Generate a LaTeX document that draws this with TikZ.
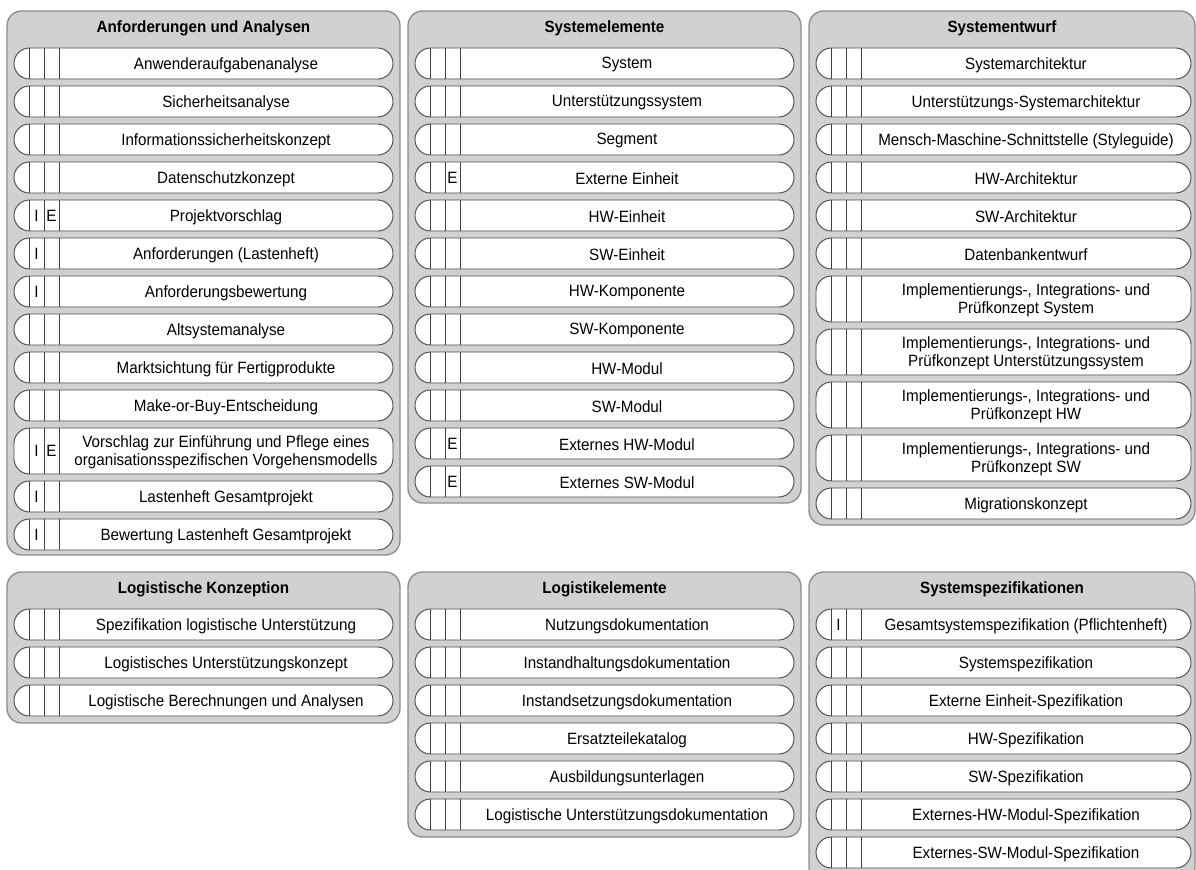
\documentclass[tikz,border=0pt]{standalone}
\usepackage{fontspec}
\setmainfont{Liberation Sans}[FakeStretch=0.93]
\usepackage{tikz}
\usetikzlibrary{positioning, calc}

% one column of artefacts: #1 prefix, #2 left x of the pills, #3 pill width (px), #4 list y/height/I/E/text
\newcommand{\artefakte}[4]{%
    \foreach \yy/\hh/\mi/\me/\txt [count=\n] in {#4} {
        \node[pill, minimum width=#3*0.75pt, minimum height=\hh*0.75pt] (#1-\n) at (#2,\yy) {};
        \draw[trenn] ([xshift=11.25pt]#1-\n.north west) -- ([xshift=11.25pt]#1-\n.south west)
                     ([xshift=22.5pt]#1-\n.north west) -- ([xshift=22.5pt]#1-\n.south west)
                     ([xshift=33.75pt]#1-\n.north west) -- ([xshift=33.75pt]#1-\n.south west);
        \node[marke] (#1-\n-i) at ([xshift=16.875pt]#1-\n.west) {\mi};
        \node[marke] (#1-\n-e) at ([xshift=28.125pt]#1-\n.west) {\me};
        \node[eintrag] (#1-\n-t) at ([xshift=16.875pt, yshift=-1pt]#1-\n.center) {\txt};
    }}

\begin{document}
\begin{tikzpicture}[
        x=0.75pt, y=-0.75pt,
        font=\fontsize{12.25pt}{13.1pt}\selectfont,
        panel/.style={draw=black!45, fill=black!18, line width=1pt, rounded corners=11pt, anchor=north west, inner sep=0pt, outer sep=0pt, minimum width=294.75pt},
        titel/.style={font=\fontsize{12.25pt}{13.1pt}\selectfont\bfseries, inner sep=0pt},
        pill/.style={draw=black!70, fill=white, line width=0.7pt, rounded corners=11.6pt, anchor=north west, inner sep=0pt, outer sep=0pt},
        trenn/.style={draw=black!75, line width=0.6pt},
        marke/.style={inner sep=0pt},
        eintrag/.style={align=center, inner sep=0pt}
    ]
    \clip (0,0) rectangle (1196,869);

    % upper row
    \node[panel, minimum height=408pt] (analysen) at (7,11) {};
    \node[titel] (analysen-titel) at ([yshift=-13pt]analysen.north) {Anforderungen und Analysen};
    \artefakte{ana}{14}{379}{48/31///Anwenderaufgabenanalyse, 86/31///Sicherheitsanalyse,
        124/31///Informationssicherheitskonzept, 162/31///Datenschutzkonzept,
        200/31/I/E/Projektvorschlag, 238/31/I//Anforderungen (Lastenheft),
        276/31/I//Anforderungsbewertung, 314/31///Altsystemanalyse,
        352/31///Marktsichtung für Fertigprodukte, 390/31///Make-or-Buy-Entscheidung,
        428/46/I/E/Vorschlag zur Einführung und Pflege eines\\organisationsspezifischen Vorgehensmodells,
        481/31/I//Lastenheft Gesamtprojekt, 519/31/I//Bewertung Lastenheft Gesamtprojekt}

    \node[panel, minimum height=369pt] (elemente) at (408,11) {};
    \node[titel] (elemente-titel) at ([yshift=-13pt]elemente.north) {Systemelemente};
    \artefakte{ele}{415}{379}{48/31///System, 86/31///Unterstützungssystem, 124/31///Segment,
        162/31//E/Externe Einheit, 200/31///HW-Einheit, 238/31///SW-Einheit,
        276/31///HW-Komponente, 314/31///SW-Komponente, 352/31///HW-Modul,
        390/31///SW-Modul, 428/31//E/Externes HW-Modul, 466/31//E/Externes SW-Modul}

    \node[panel, minimum width=289.5pt, minimum height=385.5pt] (entwurf) at (809,11) {};
    \node[titel] (entwurf-titel) at ([yshift=-13pt]entwurf.north) {Systementwurf};
    \artefakte{ent}{816}{375}{48/31///Systemarchitektur, 86/31///Unterstützungs-Systemarchitektur,
        124/31///Mensch-Maschine-Schnittstelle (Styleguide), 162/31///HW-Architektur,
        200/31///SW-Architektur, 238/31///Datenbankentwurf,
        {276/46///Implementierungs-, Integrations- und\\Prüfkonzept System},
        {329/46///Implementierungs-, Integrations- und\\Prüfkonzept Unterstützungssystem},
        {382/46///Implementierungs-, Integrations- und\\Prüfkonzept HW},
        {435/46///Implementierungs-, Integrations- und\\Prüfkonzept SW},
        488/31///Migrationskonzept}

    % lower row
    \node[panel, minimum height=113.25pt] (konzeption) at (7,572) {};
    \node[titel] (konzeption-titel) at ([yshift=-13pt]konzeption.north) {Logistische Konzeption};
    \artefakte{kon}{14}{379}{609/31///Spezifikation logistische Unterstützung,
        647/31///Logistisches Unterstützungskonzept, 685/31///Logistische Berechnungen und Analysen}

    \node[panel, minimum height=198.75pt] (logistik) at (408,572) {};
    \node[titel] (logistik-titel) at ([yshift=-13pt]logistik.north) {Logistikelemente};
    \artefakte{log}{415}{379}{609/31///Nutzungsdokumentation, 647/31///Instandhaltungsdokumentation,
        685/31///Instandsetzungsdokumentation, 723/31///Ersatzteilekatalog,
        761/31///Ausbildungsunterlagen, 799/31///Logistische Unterstützungsdokumentation}

    \node[panel, minimum width=289.5pt, minimum height=232.5pt] (spezifikation) at (809,572) {};
    \node[titel] (spezifikation-titel) at ([yshift=-13pt]spezifikation.north) {Systemspezifikationen};
    \artefakte{spe}{816}{375}{609/31/I//Gesamtsystemspezifikation (Pflichtenheft),
        647/31///Systemspezifikation, 685/31///Externe Einheit-Spezifikation,
        723/31///HW-Spezifikation, 761/31///SW-Spezifikation,
        799/31///Externes-HW-Modul-Spezifikation, 837/31///Externes-SW-Modul-Spezifikation}
\end{tikzpicture}
\end{document}
